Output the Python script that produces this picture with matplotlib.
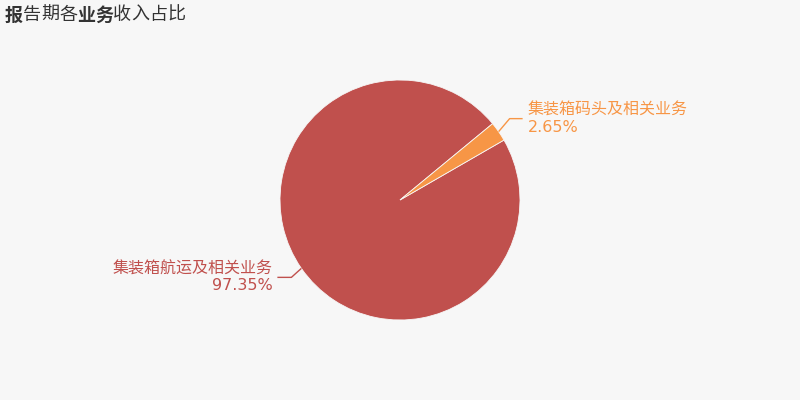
import matplotlib
matplotlib.use("Agg")
import matplotlib.pyplot as plt
import numpy as np

plt.rcParams['font.family'] = ['Noto Sans CJK SC', 'DejaVu Sans']

categories = ["集装箱航运及相关业务", "集装箱码头及相关业务"]
values = [97.35, 2.65]
colors = ["#c0504d", "#f79646"]
pct_labels = ["97.35%", "2.65%"]
title_text = "报告期各业务收入占比"
title_bold = [0, 4, 5]

W, H = 800, 400
fig = plt.figure(figsize=(8, 4), dpi=100, facecolor="#f7f7f7")
ax = fig.add_axes([0, 0, 1, 1])
ax.set_facecolor("#f7f7f7")

cx, cy, r = 400, 200, 120
wedges, _ = ax.pie(values, colors=colors, startangle=39.5, counterclock=True,
                   center=(cx, cy), radius=r, frame=True,
                   wedgeprops=dict(linewidth=0.6, edgecolor="#f7f7f7"))
ax.set_xlim(0, W)
ax.set_ylim(0, H)
ax.set_aspect("equal")
ax.axis("off")

for w, cat, pct, col in zip(wedges, categories, pct_labels, colors):
    mid = np.deg2rad((w.theta1 + w.theta2) / 2)
    x0, y0 = cx + r * np.cos(mid), cy + r * np.sin(mid)
    right = np.cos(mid) >= 0
    x1 = x0 + (11 if right else -10)
    y1 = y0 + (13 if right else -9)
    x2 = x1 + (13 if right else -14)
    ax.plot([x0, x1, x2], [y0, y1, y1], color=col, lw=1, solid_capstyle="butt")
    tx = x2 + (5 if right else -5)
    ha = "left" if right else "right"
    ax.text(tx, y1 + 8.5, cat, color=col, fontsize=11.5, ha=ha, va="center")
    ax.text(tx, y1 - 8.5, pct, color=col, fontsize=11.5, ha=ha, va="center",
            family=["DejaVu Sans"])

pitch = 18.0
for i, ch in enumerate(title_text):
    fig.text((5 + i * pitch) / W, 1 - 15 / H, ch, fontsize=13,
             fontweight="bold" if i in title_bold else "normal",
             color="#333333", va="center", ha="left")

fig.savefig("out.png", dpi=100, facecolor=fig.get_facecolor())
